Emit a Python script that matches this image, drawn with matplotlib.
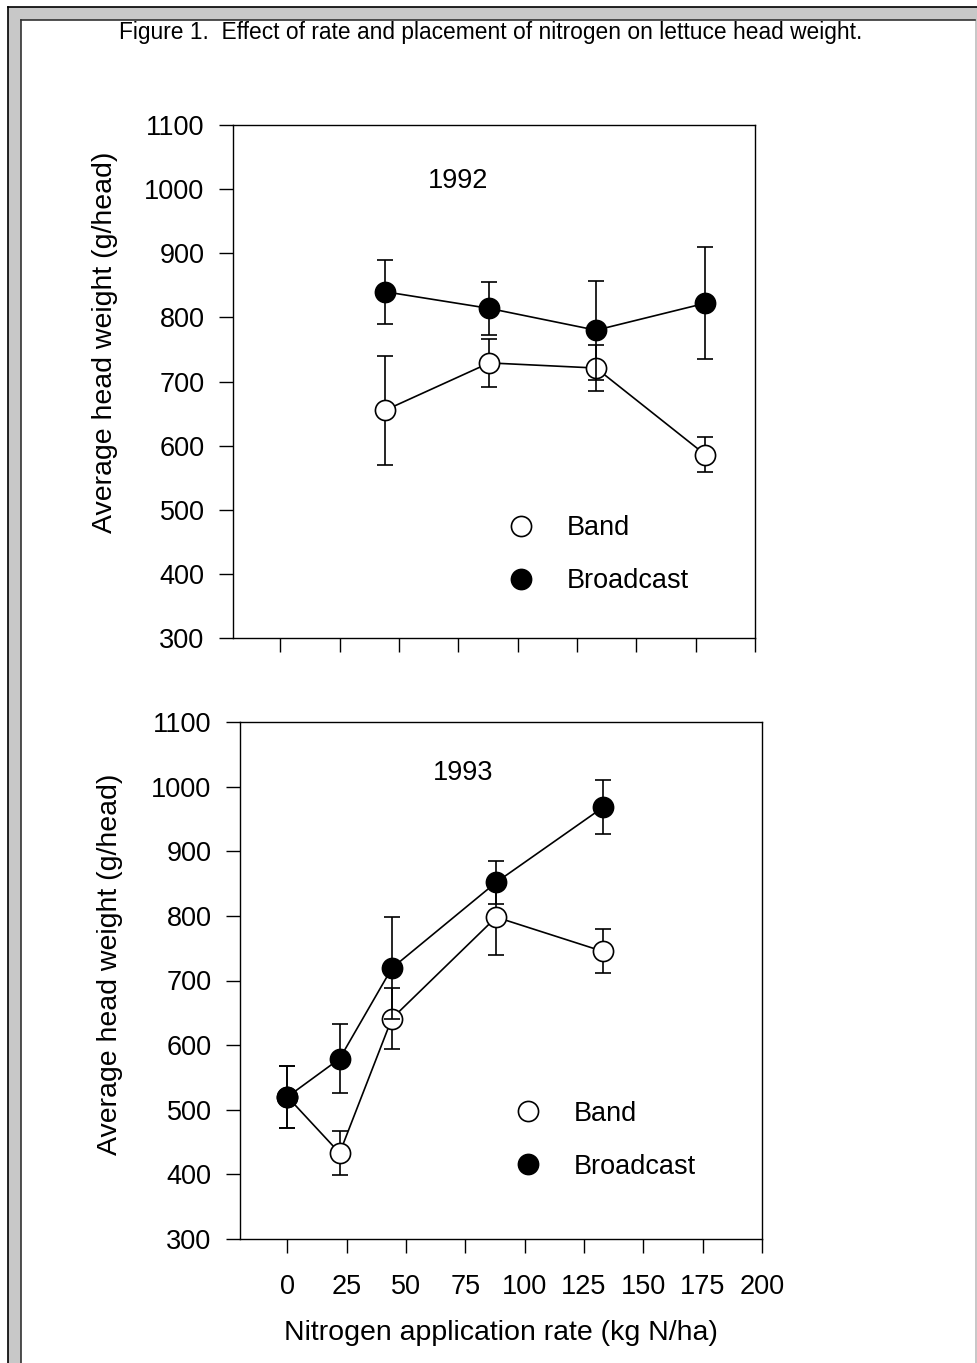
import matplotlib
matplotlib.use("Agg")
import matplotlib.pyplot as plt
from matplotlib.lines import Line2D
from matplotlib.patches import Rectangle

plt.rcParams['font.family'] = ['Liberation Sans', 'DejaVu Sans']

# ---------------- data ----------------
rate_1992 = [44, 88, 133, 179]
band_1992 = [655, 729, 721, 586]
band_1992_err = [85, 37, 36, 27]
broadcast_1992 = [840, 814, 780, 822]
broadcast_1992_err = [50, 41, 77, 87]

rate_1993 = [0, 22, 44, 88, 133]
band_1993 = [520, 433, 641, 798, 745]
band_1993_err = [48, 34, 47, 59, 34]
broadcast_1993 = [520, 579, 719, 852, 968]
broadcast_1993_err = [48, 53, 79, 33, 42]

x_ticks = [0, 25, 50, 75, 100, 125, 150, 175, 200]
y_ticks = [300, 400, 500, 600, 700, 800, 900, 1000, 1100]
series_labels = ["Band", "Broadcast"]
title = "Figure 1.  Effect of rate and placement of nitrogen on lettuce head weight."
ylabel = "Average head weight (g/head)"
xlabel = "Nitrogen application rate (kg N/ha)"

# ---------------- figure ----------------
W, H = 977, 1363
fig = plt.figure(figsize=(W / 100, H / 100), dpi=100)

def px(x, y):
    return x / W, 1 - y / H

# page frame (scan border)
fig.add_artist(Rectangle(px(8, H), (W - 8) / W, (H - 7) / H, transform=fig.transFigure,
                         facecolor="#c8c8c8", edgecolor="none", zorder=0))
fig.add_artist(Rectangle(px(21, H), (975 - 21) / W, (H - 20) / H, transform=fig.transFigure,
                         facecolor="white", edgecolor="none", zorder=0))
fig.add_artist(Line2D([8 / W, 8 / W], [0, 1 - 7 / H], transform=fig.transFigure, color="black", lw=1.2))
fig.add_artist(Line2D([8 / W, 1], [1 - 7 / H, 1 - 7 / H], transform=fig.transFigure, color="black", lw=1.2))
fig.add_artist(Line2D([21 / W, 21 / W], [0, 1 - 20 / H], transform=fig.transFigure, color="#333333", lw=1.2))
fig.add_artist(Line2D([21 / W, 975 / W], [1 - 20 / H, 1 - 20 / H], transform=fig.transFigure, color="#333333", lw=1.2))

FS = 19.5
MS = 14.5

def style_axis(ax, show_xlabels):
    ax.set_xlim(-20, 200)
    ax.set_ylim(300, 1100)
    ax.set_xticks(x_ticks)
    ax.set_yticks(y_ticks)
    for s in ax.spines.values():
        s.set_linewidth(1.0)
    ax.tick_params(axis="both", direction="out", length=10, width=1.0, labelsize=FS)
    ax.tick_params(axis="y", pad=10.5)
    ax.tick_params(axis="x", pad=15)
    if not show_xlabels:
        ax.tick_params(axis="x", labelbottom=False)

def draw(ax, x, band, band_err, bc, bc_err):
    ax.errorbar(x, band, yerr=band_err, fmt="-o", color="black", mfc="white", mec="black",
                ms=MS, mew=1.2, lw=1.2, elinewidth=1.2, capsize=5.5, capthick=1.2, zorder=2)
    ax.errorbar(x, bc, yerr=bc_err, fmt="-o", color="black", mfc="black", mec="black",
                ms=MS, mew=1.2, lw=1.2, elinewidth=1.2, capsize=5.5, capthick=1.2, zorder=3)
    handles = [Line2D([], [], marker="o", ls="none", mfc="white", mec="black", ms=MS, mew=1.2),
               Line2D([], [], marker="o", ls="none", mfc="black", mec="black", ms=MS, mew=1.2)]
    return handles

# top panel (1992)
ax1 = fig.add_axes([233 / W, 1 - 638 / H, 522 / W, 513 / H])
style_axis(ax1, False)
h = draw(ax1, rate_1992, band_1992, band_1992_err, broadcast_1992, broadcast_1992_err)
ax1.text(0.431, 0.891, "1992", transform=ax1.transAxes, ha="center", va="center", fontsize=FS)
ax1.legend(h, series_labels, loc="center left", bbox_to_anchor=(0.525, 0.162), frameon=False,
           fontsize=FS, handlelength=1.0, handletextpad=1.22, labelspacing=1.0, borderpad=0,
           borderaxespad=0)

# bottom panel (1993)
ax2 = fig.add_axes([240 / W, 1 - 1239 / H, 522 / W, 517 / H])
style_axis(ax2, True)
h = draw(ax2, rate_1993, band_1993, band_1993_err, broadcast_1993, broadcast_1993_err)
ax2.text(0.427, 0.901, "1993", transform=ax2.transAxes, ha="center", va="center", fontsize=FS)
ax2.legend(h, series_labels, loc="center left", bbox_to_anchor=(0.525, 0.191), frameon=False,
           fontsize=FS, handlelength=1.0, handletextpad=1.22, labelspacing=1.0, borderpad=0,
           borderaxespad=0)

# labels
fig.text(*px(105, 342), ylabel, rotation=90, ha="center", va="center", fontsize=20.5)
fig.text(*px(110, 964), ylabel, rotation=90, ha="center", va="center", fontsize=20.5)
fig.text(*px(501, 1333), xlabel, ha="center", va="center", fontsize=20.5)
fig.text(*px(491, 33), title, ha="center", va="center", fontsize=16.4)

fig.savefig("out.png", dpi=100)
